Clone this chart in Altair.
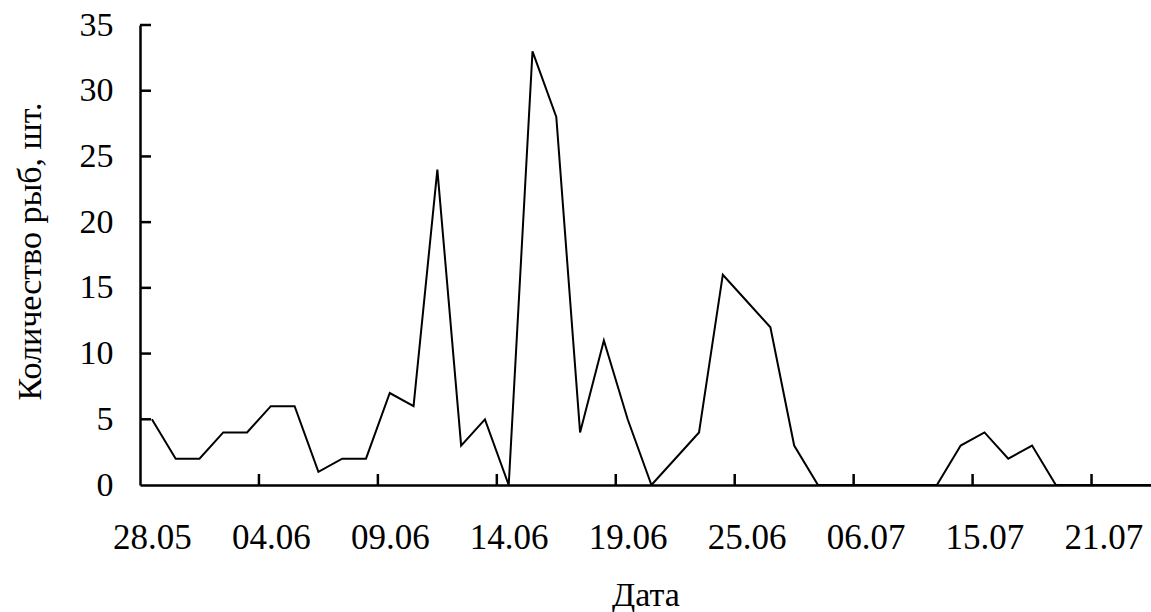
import altair as alt
import pandas as pd

# Data
counts = [5, 2, 2, 4, 4, 6, 6, 1, 2, 2,
          7, 6, 24, 3, 5, 0, 33, 28, 4, 11,
          5, 0, 2, 4, 16, 14, 12, 3, 0, 0,
          0, 0, 0, 0, 3, 4, 2, 3, 0, 0,
          0, 0, 0]
tick_labels = ["28.05", "04.06", "09.06", "14.06", "19.06", "25.06", "06.07", "15.07", "21.07"]
label_every = 5
y_ticks = [0, 5, 10, 15, 20, 25, 30, 35]

label_idx = [i * label_every for i in range(len(tick_labels))]
boundaries = [i - 0.5 for i in label_idx[1:]]

df = pd.DataFrame({"idx": list(range(len(counts))), "n": counts})
df_xt = pd.DataFrame({"idx": boundaries})
df_yt = pd.DataFrame({"n": y_ticks[1:]})

FONT = "'Liberation Serif', 'Times New Roman', 'DejaVu Serif', serif"
W, H = 1011, 460

label_arr = "[" + ",".join("'%s'" % s for s in tick_labels) + "]"

xscale = alt.Scale(domain=[-0.5, 42], nice=False, zero=False)
yscale = alt.Scale(domain=[0, 35], nice=False)

xaxis = alt.Axis(values=label_idx, labelExpr=label_arr + "[round(datum.value/5)]",
                 title="Дата", grid=False, ticks=False,
                 domainColor="black", domainWidth=2.5,
                 labelFont=FONT, labelFontSize=35, labelColor="black",
                 labelPadding=63, labelBaseline="alphabetic", labelFlush=False,
                 labelOverlap=False,
                 titleFont=FONT, titleFontSize=34, titleFontWeight="normal",
                 titleColor="black", titleBaseline="alphabetic", titleY=120)
yaxis = alt.Axis(values=y_ticks, title="Количество рыб, шт.", grid=False,
                 ticks=False, domainColor="black", domainWidth=2.5,
                 labelFont=FONT, labelFontSize=34, labelColor="black",
                 labelPadding=27, labelFlush=False,
                 titleFont=FONT, titleFontSize=34, titleFontWeight="normal",
                 titleColor="black", titleBaseline="alphabetic",
                 titleX=-100, titleY=226, titleAngle=270, titleAlign="center")

line = alt.Chart(df).mark_line(color="black", strokeWidth=2, clip=True).encode(
    x=alt.X("idx:Q", scale=xscale, axis=xaxis),
    y=alt.Y("n:Q", scale=yscale, axis=yaxis),
)

xt = alt.Chart(df_xt).mark_rule(color="black", strokeWidth=2.5).encode(
    x=alt.X("idx:Q", scale=xscale, axis=xaxis),
    y=alt.value(H),
    y2=alt.value(H - 11),
)

yt = alt.Chart(df_yt).mark_rule(color="black", strokeWidth=2.5).encode(
    y=alt.Y("n:Q", scale=yscale, axis=yaxis),
    x=alt.value(0),
    x2=alt.value(11),
)

chart = alt.layer(line, xt, yt).properties(
    width=W, height=H,
    autosize=alt.AutoSizeParams(type="none"),
    padding={"left": 140, "top": 25, "right": 0, "bottom": 127},
    background="white",
).configure_view(stroke=None)

chart.save("out.html", embed_options={"renderer": "svg", "actions": False})
